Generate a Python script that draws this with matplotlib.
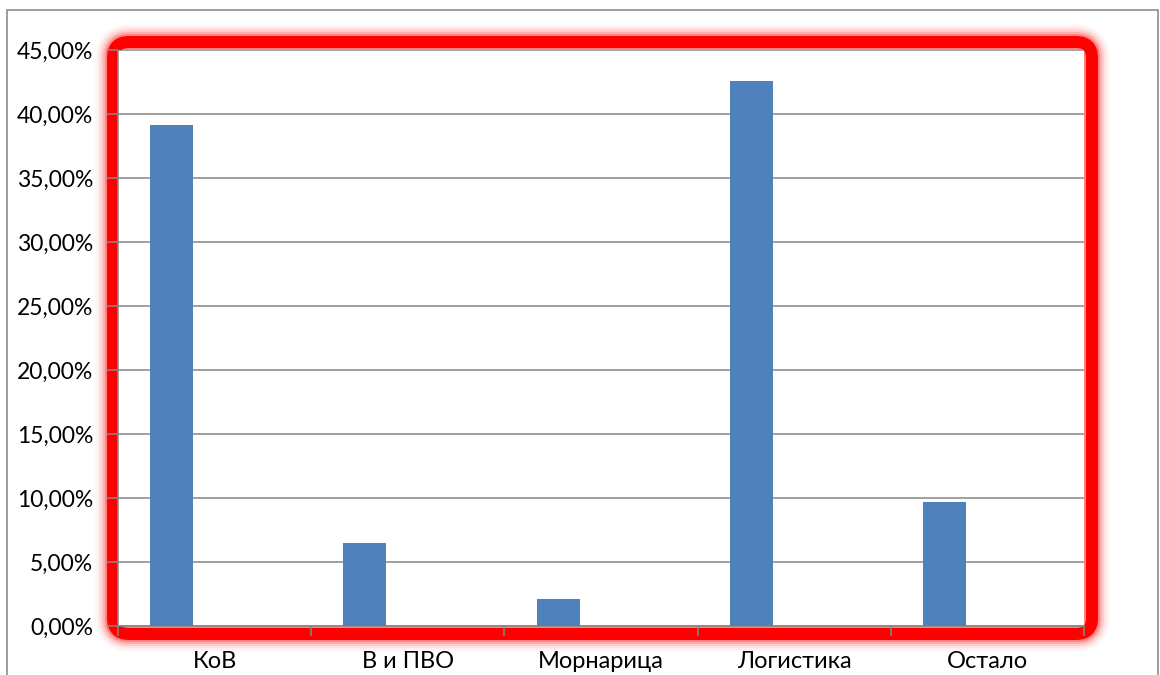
from matplotlib import pyplot as plt
from matplotlib.patches import FancyBboxPatch, Rectangle
from matplotlib.transforms import IdentityTransform
from matplotlib.ticker import FuncFormatter

# data
categories = ['КоВ', 'В и ПВО', 'Морнарица', 'Логистика', 'Остало']
shares = [39.12, 6.46, 2.09, 42.58, 9.69]
y_ticks = [0, 5, 10, 15, 20, 25, 30, 35, 40, 45]

bar_color = '#4F81BD'
grid_color = '#868686'

def pct(v, pos):
    return ('%.2f' % v).replace('.', ',') + '%'

def main():
    plt.rcParams['font.family'] = ['Lato', 'DejaVu Sans']
    W, H = 1160, 675
    fig = plt.figure(figsize=(W / 100, H / 100), dpi=100)
    fig.patch.set_facecolor('white')

    # outer grey frame
    frame = Rectangle((7, -5), 1151, H - 10 + 5, transform=IdentityTransform(),
                      fill=False, edgecolor='#8c8c8c', linewidth=1.2, zorder=-5)
    fig.patches.append(frame)

    # glowing red border around the plot area
    x0, x1 = 113, 1092
    y0, y1 = H - 634, H - 42
    glow = [(24, 0.025), (20, 0.04), (16, 0.06), (12, 0.09), (8, 0.14), (4, 0.25), (0, 1.0)]
    for extra, alpha in glow:
        p = FancyBboxPatch((x0, y0), x1 - x0, y1 - y0,
                           boxstyle='round,pad=0,rounding_size=16',
                           transform=IdentityTransform(), fill=False,
                           edgecolor='#FF0000', alpha=alpha,
                           linewidth=(12 + extra) * 0.72, zorder=-2)
        fig.patches.append(p)

    ax = fig.add_axes([118 / W, (H - 626) / H, (1084 - 118) / W, (626 - 50) / H])
    ax.set_zorder(1)

    # excel style: 3 series slot, only the first one has data
    bar_w = 1 / (3 + 1.5)
    xs = [i - bar_w for i in range(len(categories))]
    ax.bar(xs, shares, width=bar_w, color=bar_color, zorder=3)

    ax.set_xlim(-0.5, len(categories) - 0.5)
    ax.set_ylim(0, 45)
    ax.set_yticks(y_ticks)
    ax.yaxis.set_major_formatter(FuncFormatter(pct))
    ax.yaxis.grid(True, color=grid_color, linewidth=1.1)
    ax.set_axisbelow(True)

    ax.set_xticks([i + 0.5 for i in range(-1, len(categories))])
    ax.set_xticklabels([])
    ax.set_xticks(range(len(categories)), minor=True)
    ax.set_xticklabels(categories, minor=True)
    ax.tick_params(axis='x', which='minor', length=0, pad=18, labelsize=17)
    ax.tick_params(axis='x', which='major', length=7, color=grid_color, width=1.1)
    ax.tick_params(axis='y', length=8, color=grid_color, width=1.1, pad=10, labelsize=16.5)

    for s in ['top', 'right']:
        ax.spines[s].set_visible(False)
    ax.spines['left'].set_color(grid_color)
    ax.spines['bottom'].set_color(grid_color)
    ax.spines['left'].set_linewidth(1.1)
    ax.spines['bottom'].set_linewidth(1.1)

    plt.savefig('out.png', dpi=100)

main()
